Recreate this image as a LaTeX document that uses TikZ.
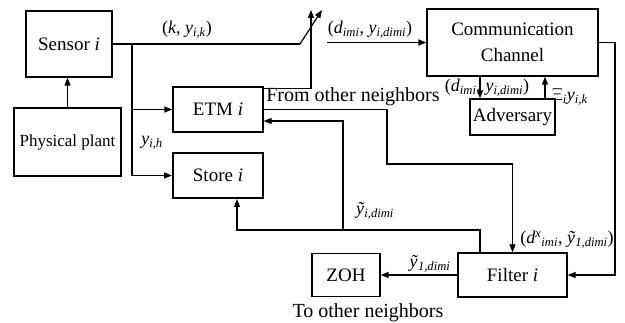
\documentclass[tikz,border=0pt]{standalone}
\usepackage{fontspec}
\setmainfont{Liberation Serif}
\usetikzlibrary{arrows.meta}
\newcommand{\mi}[1]{\textit{#1}}
\newcommand{\sbi}[1]{\textsubscript{\textit{#1}}}
\begin{document}
\begin{tikzpicture}[x=1pt,y=-1pt,line width=1.2pt,
  >={Triangle[length=8pt,width=6pt]},
  box/.style={draw,inner sep=0pt,align=center,font=\fontsize{19}{26}\selectfont},
  lbl/.style={inner sep=0pt,font=\fontsize{18}{20}\selectfont},
  txt/.style={inner sep=0pt,font=\fontsize{20}{24}\selectfont}]
\useasboundingbox (0,0) rectangle (625,323);
\fill[white] (0,0) rectangle (625,323);
% boxes
\node[box,minimum width=86pt,minimum height=66pt] (sensor) at (69,44) {Sensor \mi{i}};
\node[box,minimum width=107pt,minimum height=68pt,font=\fontsize{17}{20}\selectfont] (plant) at (67.5,142) {Physical plant};
\node[box,minimum width=90pt,minimum height=45pt] (etm) at (218,109.5) {ETM \mi{i}};
\node[box,minimum width=90pt,minimum height=45pt,line width=2pt] (store) at (218,175.5) {Store \mi{i}};
\node[box,minimum width=171pt,minimum height=67pt] (channel) at (512.5,42.5) {Communication\\Channel};
\node[box,minimum width=85pt,minimum height=36pt] (adv) at (512.5,117) {Adversary};
\node[box,minimum width=109pt,minimum height=44pt] (filter) at (512.5,275) {Filter \mi{i}};
\node[box,minimum width=68pt,minimum height=43pt] (zoh) at (346,275) {ZOH};
% coordinates
\coordinate (sw1) at (300,44);
\coordinate (sw2) at (322,10);
\coordinate (br) at (132,44);
\coordinate (up) at (311,10);
\coordinate (cin) at (327,42.5);
\coordinate (fo1) at (387,164);
\coordinate (fb) at (480,230);
\coordinate (fb2) at (343,230);
\coordinate (cr) at (615,42.5);
% connectors
\draw[->] (plant.north) -- (plant.north |- sensor.south);
\draw (sensor.east) -- (sw1);
\draw[->] (sw1) -- (sw2);
\draw[->] (br) |- (store.west);
\draw[->] (br |- etm.west) -- (etm.west);
\draw[->] ([yshift=-2pt]etm.north east) -| (up);
\draw[->] (cin) -- (channel.west);
\draw[->] (etm.east) -| (fo1) -| (filter.north);
\draw[->] (fb |- filter.north) -- (fb) -| ([xshift=19pt]store.south);
\draw[->] (fb2) |- ([yshift=-11.5pt]etm.east);
\draw[->] (channel.east) -- (cr) |- (filter.east);
\draw[->] ([xshift=-32.5pt]channel.south) -- ([xshift=-32.5pt]channel.south |- adv.north);
\draw[->] ([xshift=32.5pt]adv.north) -- ([xshift=32.5pt]adv.north |- channel.south);
\draw[->] (filter.west) -- (zoh.east);
% labels
\node[lbl] (l1) at (187,30) {(\mi{k}, \mi{y}\sbi{i,k})};
\node[lbl] (l2) at (370,30) {(\mi{d}\sbi{imi}, \mi{y}\sbi{i,dimi})};
\node[lbl] (l3) at (152,143) {\mi{y}\sbi{i,h}};
\node[txt] (l4) at (353,97) {From other neighbors};
\node[lbl] (l5) at (487,88) {(\mi{d}\sbi{imi}, \mi{y}\sbi{i,dimi})};
\node[lbl] (l6) at (570,97) {$\Xi$\sbi{i}\mi{y}\sbi{i,k}};
\node[lbl] (l7) at (375,211) {\mi{ỹ}\sbi{i,dimi}};
\node[lbl] (l8) at (567,240) {(\mi{d}\textsuperscript{\mi{x}}\sbi{imi}, \mi{ỹ}\sbi{1,dimi})};
\node[lbl] (l9) at (430,264) {\mi{ỹ}\sbi{1,dimi}};
\node[txt] (l10) at (368,313) {To other neighbors};
\end{tikzpicture}
\end{document}
